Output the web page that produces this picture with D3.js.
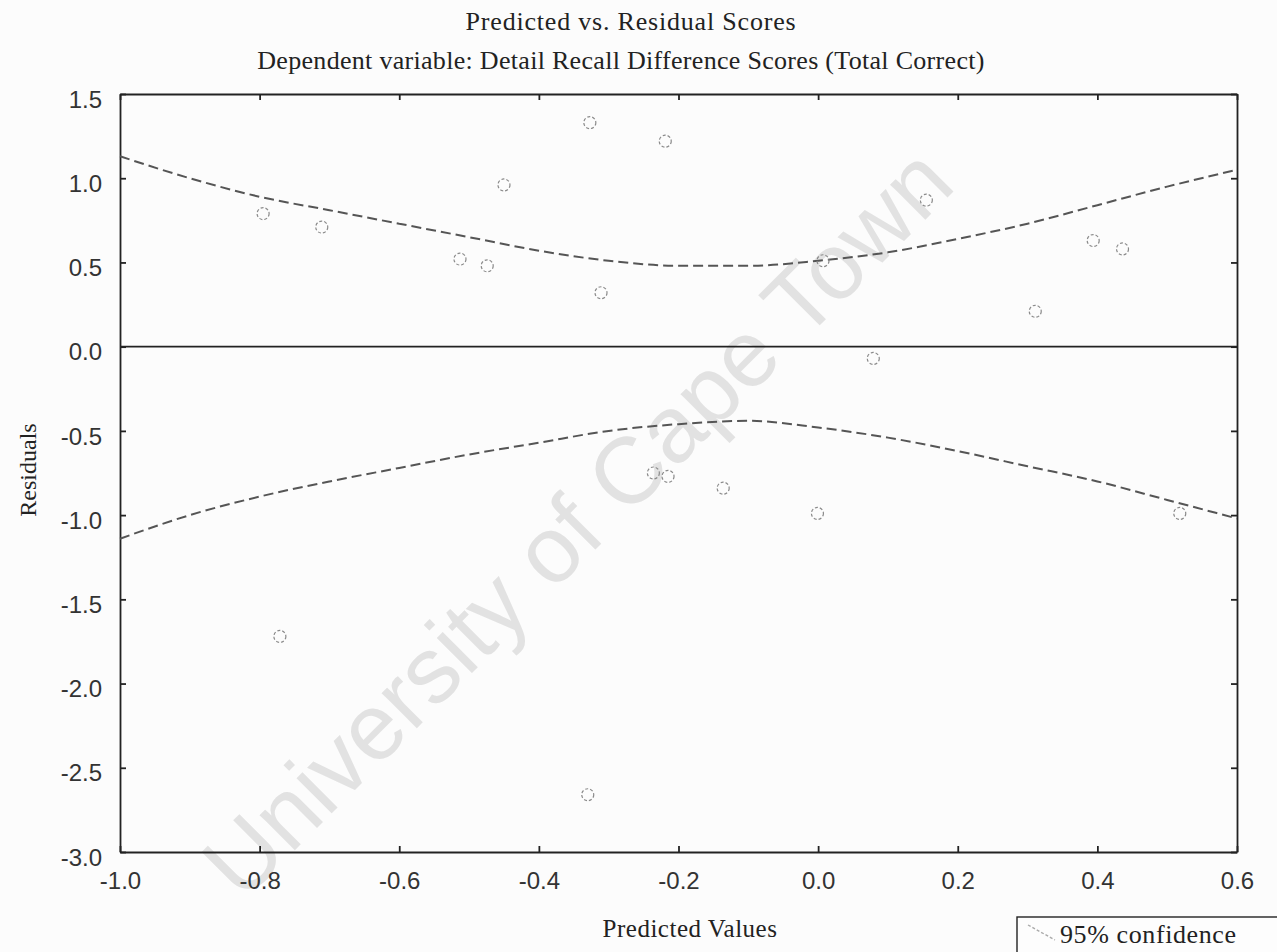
<!DOCTYPE html>
<html><head><meta charset="utf-8">
<script src="https://cdn.jsdelivr.net/npm/d3@7/dist/d3.min.js"></script>
<style>html,body{margin:0;padding:0;background:#fcfcfc;}</style>
</head><body>
<svg id="c" width="1277" height="952"></svg>
<script>
const predicted = [-0.795,-0.711,-0.513,-0.474,-0.450,-0.327,-0.311,-0.219,0.007,0.079,0.155,0.311,0.394,0.436,
  -0.236,-0.215,-0.136,-0.001,0.518,-0.771,-0.330];
const residuals = [0.79,0.71,0.52,0.48,0.96,1.33,0.32,1.22,0.51,-0.07,0.87,0.21,0.63,0.58,
  -0.75,-0.77,-0.84,-0.99,-0.99,-1.72,-2.66];
const bandX = [-1.0,-0.9,-0.8,-0.7,-0.6,-0.5,-0.4,-0.3,-0.2,-0.1,0.0,0.1,0.2,0.3,0.4,0.5,0.6];
const upperBand = [1.13,1.00,0.89,0.81,0.73,0.65,0.57,0.51,0.48,0.48,0.51,0.56,0.64,0.73,0.84,0.95,1.05];
const lowerBand = [-1.14,-1.00,-0.89,-0.80,-0.72,-0.64,-0.57,-0.50,-0.46,-0.44,-0.48,-0.54,-0.62,-0.71,-0.80,-0.91,-1.02];
const xTicks = [-1.0,-0.8,-0.6,-0.4,-0.2,0.0,0.2,0.4,0.6];
const yTicks = [1.5,1.0,0.5,0.0,-0.5,-1.0,-1.5,-2.0,-2.5,-3.0];

const svg = d3.select('#c');
const L=120,R=1237,T=94,B=852;
const x = d3.scaleLinear().domain([-1.0,0.6]).range([L,R]);
const y = d3.scaleLinear().domain([-3.0,1.5]).range([B,T]);
const serif = 'Liberation Serif, Times New Roman, serif';
const sans = 'Liberation Sans, Arial, sans-serif';

// watermark
svg.append('text').attr('transform','translate(600,545) rotate(-45)')
  .attr('text-anchor','middle').attr('font-family',sans)
  .attr('font-size',94).attr('fill','#e2e2e2').text('University of Cape Town');

// titles
svg.append('text').attr('x',631).attr('y',30).attr('text-anchor','middle')
  .attr('font-family',serif).attr('font-size',26).attr('letter-spacing',0.8).attr('fill','#222')
  .text('Predicted vs. Residual Scores');
svg.append('text').attr('x',621).attr('y',69).attr('text-anchor','middle')
  .attr('font-family',serif).attr('font-size',26).attr('letter-spacing',0.3).attr('fill','#222')
  .text('Dependent variable: Detail Recall Difference Scores (Total Correct)');

// axes
const fmt = v => d3.format('.1f')(v).replace('\u2212','-');
const gB = svg.append('g').attr('transform',`translate(0,${B})`)
  .call(d3.axisBottom(x).tickValues(xTicks).tickFormat(fmt).tickSizeInner(-6).tickSizeOuter(0).tickPadding(20));
const gT = svg.append('g').attr('transform',`translate(0,${T})`)
  .call(d3.axisTop(x).tickValues(xTicks).tickFormat('').tickSizeInner(-6).tickSizeOuter(0));
const gL = svg.append('g').attr('transform',`translate(${L},0)`)
  .call(d3.axisLeft(y).tickValues(yTicks).tickFormat(fmt).tickSizeInner(-6).tickSizeOuter(0).tickPadding(18));
const gR = svg.append('g').attr('transform',`translate(${R},0)`)
  .call(d3.axisRight(y).tickValues(yTicks).tickFormat('').tickSizeInner(-6).tickSizeOuter(0));
[gB,gT,gL,gR].forEach(g=>{
  g.select('.domain').attr('stroke','#222').attr('stroke-width',1.8);
  g.selectAll('.tick line').attr('stroke','#222').attr('stroke-width',1.8);
  g.selectAll('.tick text').attr('font-family',sans).attr('font-size',24).attr('fill','#333');
});
gL.selectAll('.tick text').attr('dy','0.55em');

// zero line
svg.append('line').attr('x1',L).attr('x2',R).attr('y1',y(0)).attr('y2',y(0))
  .attr('stroke','#222').attr('stroke-width',1.6);

// bands
const line = d3.line().x(d=>x(d[0])).y(d=>y(d[1])).curve(d3.curveMonotoneX);
[upperBand,lowerBand].forEach(b=>{
  svg.append('path').attr('d',line(bandX.map((v,i)=>[v,b[i]])))
    .attr('fill','none').attr('stroke','#555').attr('stroke-width',2).attr('stroke-dasharray','10,5');
});

// points
svg.append('g').selectAll('circle').data(predicted.map((v,i)=>[v,residuals[i]])).join('circle')
  .attr('cx',d=>x(d[0])).attr('cy',d=>y(d[1])).attr('r',6)
  .attr('fill','none').attr('stroke','#8a8a8a').attr('stroke-width',1.2).attr('stroke-dasharray','3,2');

// axis titles
svg.append('text').attr('x',690).attr('y',937).attr('text-anchor','middle')
  .attr('font-family',serif).attr('font-size',25).attr('letter-spacing',0.5).attr('fill','#222')
  .text('Predicted Values');
svg.append('text').attr('transform','translate(36,470) rotate(-90)').attr('text-anchor','middle')
  .attr('font-family',serif).attr('font-size',24).attr('fill','#222')
  .text('Residuals');

// legend
svg.append('rect').attr('x',1017).attr('y',917).attr('width',262).attr('height',50)
  .attr('fill','#fdfdfd').attr('stroke','#222').attr('stroke-width',1.4);
svg.append('line').attr('x1',1028).attr('y1',925).attr('x2',1055).attr('y2',940)
  .attr('stroke','#aaa').attr('stroke-width',1.4).attr('stroke-dasharray','3,2');
svg.append('text').attr('x',1060).attr('y',943)
  .attr('font-family',serif).attr('font-size',26).attr('letter-spacing',0.6).attr('fill','#222')
  .text('95% confidence');
</script>
</body></html>
